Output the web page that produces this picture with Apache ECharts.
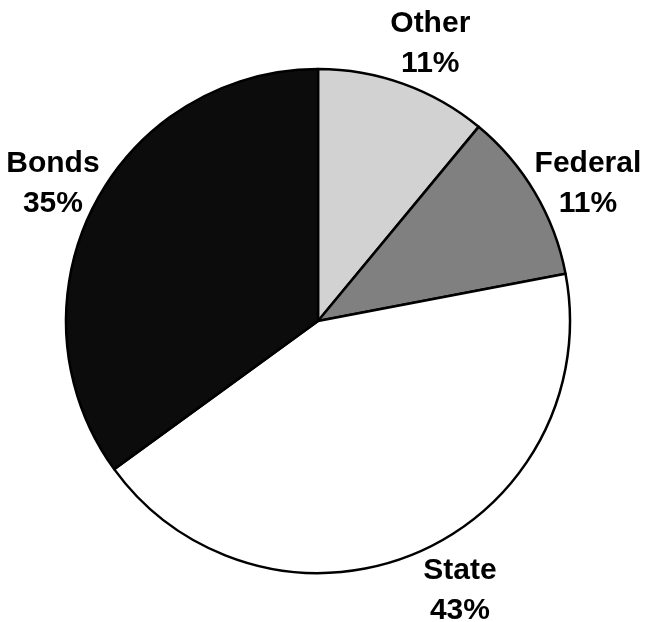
<!DOCTYPE html>
<html>
<head>
<meta charset="utf-8">
<style>
  html, body { margin: 0; padding: 0; background: #fff; }
  #chart { width: 645px; height: 622px; }
</style>
<script src="https://cdn.jsdelivr.net/npm/echarts@6/dist/echarts.min.js"></script>
</head>
<body>
<div id="chart"></div>
<script>
// Data
const categories = ['Other', 'Federal', 'State', 'Bonds'];
const values = [11, 11, 43, 35];
const colors = ['#d2d2d2', '#808080', '#ffffff', '#0c0c0c'];

// Label styling (pixel nudges applied to the computed outside positions)
const labelNudges = [[10, 7], [10, 16], [22, -7], [4, 0]];

const pieCenter = [318, 321];
const pieRadius = 252;
const labelRadius = 302;

const total = values.reduce((a, b) => a + b, 0);
const midAngles = [];
{
  let acc = 0;
  values.forEach(v => {
    midAngles.push((acc + v / 2) / total * 2 * Math.PI);
    acc += v;
  });
}

const chart = echarts.init(document.getElementById('chart'), null, { renderer: 'canvas' });
chart.setOption({
  backgroundColor: '#ffffff',
  animation: false,
  series: [{
    type: 'pie',
    center: pieCenter,
    radius: pieRadius,
    startAngle: 90,
    clockwise: true,
    avoidLabelOverlap: false,
    data: categories.map((c, i) => ({
      name: c,
      value: values[i],
      itemStyle: { color: colors[i] }
    })),
    itemStyle: { borderColor: '#000', borderWidth: 2.5 },
    label: {
      show: true,
      position: 'outside',
      formatter: p => p.name + '\n' + p.value + '%',
      fontFamily: '"Liberation Sans", Arial, Helvetica, sans-serif',
      fontWeight: 'bold',
      fontSize: 30,
      lineHeight: 40,
      color: '#000'
    },
    labelLine: { show: false },
    labelLayout: function (params) {
      const i = params.dataIndex;
      const a = midAngles[i];
      return {
        x: pieCenter[0] + labelRadius * Math.sin(a) + labelNudges[i][0],
        y: pieCenter[1] - labelRadius * Math.cos(a) + labelNudges[i][1],
        align: 'center',
        verticalAlign: 'middle'
      };
    },
    emphasis: { disabled: true }
  }]
});
</script>
</body>
</html>
